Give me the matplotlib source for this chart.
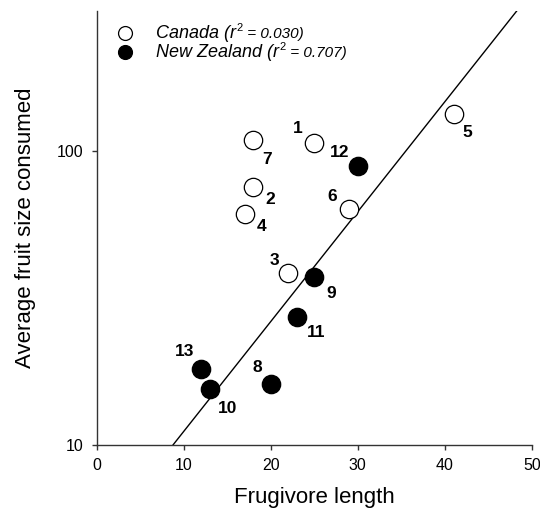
import numpy as np
import matplotlib
matplotlib.use("Agg")
import matplotlib.pyplot as plt

plt.rcParams['font.family'] = ['Liberation Sans', 'DejaVu Sans']

# 캐나다 (open circles)
ca_id = [1, 2, 3, 4, 5, 6, 7]
ca_len = [25, 18, 22, 17, 41, 29, 18]
ca_fruit = [106.7, 75.6, 38.5, 61.0, 133.6, 63.4, 109.0]

# 뉴질랜드 (filled circles)
nz_id = [8, 9, 10, 11, 12, 13]
nz_len = [20, 25, 13, 23, 30, 12]
nz_fruit = [16.1, 37.4, 15.5, 27.3, 88.9, 18.2]

# 범례 텍스트
legend_names = ['Canada (r', 'New Zealand (r']
legend_r2 = [' = 0.030)', ' = 0.707)']

# 라벨 위치 (offset points)
label_off = {1: (-12, 10), 2: (12, -9), 3: (-10, 9), 4: (12, -9), 5: (10, -13),
             6: (-12, 9), 7: (10, -14), 8: (-10, 12), 9: (12, -12), 10: (13, -14),
             11: (14, -11), 12: (-13, 10), 13: (-12, 12)}

# 회귀선 (log y = a + b x)
fit_x = [8.78, 48.3]
fit_a, fit_b = 0.672, 0.0374

fig = plt.figure(figsize=(5.4, 5.18), dpi=100)
ax = fig.add_axes([0.179, 0.141, 0.806, 0.838])

xs = np.array(fit_x)
ax.plot(xs, 10 ** (fit_a + fit_b * xs), color='black', lw=1.0, zorder=1)

ax.scatter(ca_len, ca_fruit, s=175, facecolor='white', edgecolor='black', lw=0.9, zorder=3)
ax.scatter(nz_len, nz_fruit, s=175, facecolor='black', edgecolor='black', lw=0.9, zorder=3)

for i, x, y in zip(ca_id + nz_id, ca_len + nz_len, ca_fruit + nz_fruit):
    dx, dy = label_off[i]
    ax.annotate(str(i), (x, y), xytext=(dx, dy), textcoords='offset points',
                ha='center', va='center', fontsize=12.5, fontweight='bold')

# 범례 (수동 배치)
leg_y = [0.950, 0.906]
leg_face = ['white', 'black']
for k in range(2):
    base = leg_y[k] - 0.013
    ax.scatter([0.065], [leg_y[k]], s=100, facecolor=leg_face[k], edgecolor='black', lw=0.9,
               transform=ax.transAxes, clip_on=False, zorder=4)
    t1 = ax.text(0.136, base, legend_names[k], transform=ax.transAxes,
                 fontsize=13, style='italic', va='baseline', ha='left')
    t2 = ax.annotate('2', xy=(1, base), xycoords=(t1, ax.transAxes), xytext=(0.3, 5.5),
                     textcoords='offset points', fontsize=8, va='baseline', ha='left')
    ax.annotate(legend_r2[k], xy=(1, base), xycoords=(t2, ax.transAxes), fontsize=11,
                style='italic', va='baseline', ha='left')

ax.set_yscale('log')
ax.set_xlim(0, 50)
ax.set_ylim(10, 300)
ax.set_xticks([0, 10, 20, 30, 40, 50])
ax.set_yticks([10, 100])
ax.set_yticklabels(['10', '100'])
ax.yaxis.set_minor_locator(matplotlib.ticker.NullLocator())
ax.tick_params(labelsize=11.5, length=3.6, width=1, pad=6, direction='out', color='#333333')
ax.spines['top'].set_visible(False)
ax.spines['right'].set_visible(False)
for s in ['left', 'bottom']:
    ax.spines[s].set_color('#333333')
    ax.spines[s].set_linewidth(1.0)

ax.set_xlabel('Frugivore length', fontsize=16, labelpad=10)
ax.set_ylabel('Average fruit size consumed', fontsize=16, labelpad=15)

fig.savefig('out.png', dpi=100)
